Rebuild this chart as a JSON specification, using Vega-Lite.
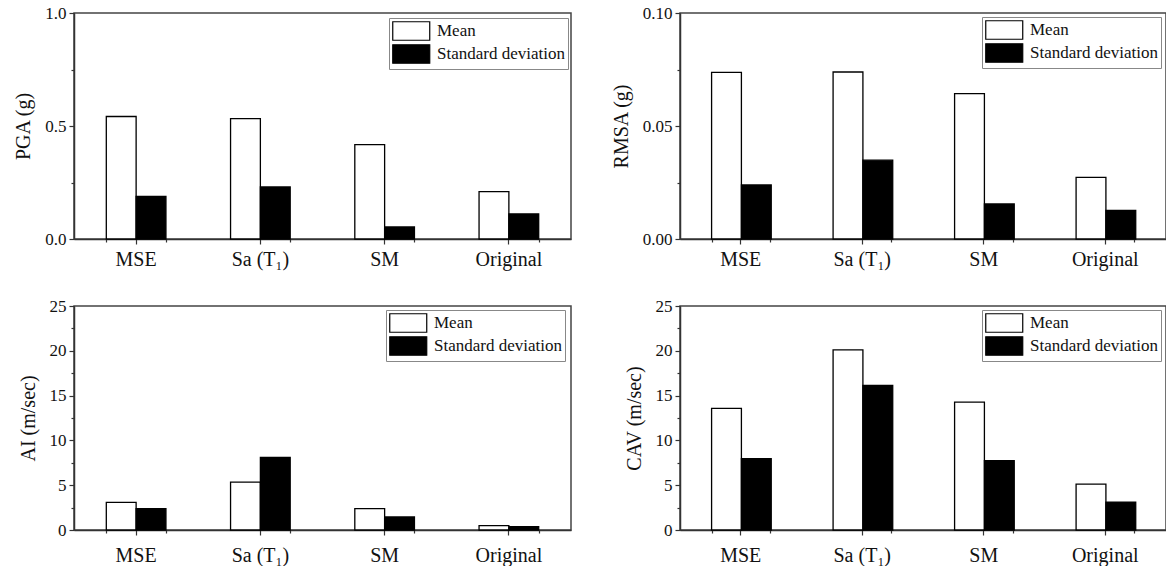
{
  "$schema": "https://vega.github.io/schema/vega-lite/v6.json",
  "padding": {"left": 13, "top": 3, "right": 0, "bottom": 0},
  "background": "white",
  "datasets": {
    "pga": [
      {"cat": "MSE", "stat": "Mean", "value": 0.542},
      {"cat": "MSE", "stat": "Standard deviation", "value": 0.188},
      {"cat": "Sa (T₁)", "stat": "Mean", "value": 0.533},
      {"cat": "Sa (T₁)", "stat": "Standard deviation", "value": 0.23},
      {"cat": "SM", "stat": "Mean", "value": 0.418},
      {"cat": "SM", "stat": "Standard deviation", "value": 0.053},
      {"cat": "Original", "stat": "Mean", "value": 0.21},
      {"cat": "Original", "stat": "Standard deviation", "value": 0.111}
    ],
    "rmsa": [
      {"cat": "MSE", "stat": "Mean", "value": 0.0737},
      {"cat": "MSE", "stat": "Standard deviation", "value": 0.0239},
      {"cat": "Sa (T₁)", "stat": "Mean", "value": 0.0739},
      {"cat": "Sa (T₁)", "stat": "Standard deviation", "value": 0.0349},
      {"cat": "SM", "stat": "Mean", "value": 0.0643},
      {"cat": "SM", "stat": "Standard deviation", "value": 0.0155},
      {"cat": "Original", "stat": "Mean", "value": 0.0273},
      {"cat": "Original", "stat": "Standard deviation", "value": 0.0126}
    ],
    "ai": [
      {"cat": "MSE", "stat": "Mean", "value": 3.08},
      {"cat": "MSE", "stat": "Standard deviation", "value": 2.38},
      {"cat": "Sa (T₁)", "stat": "Mean", "value": 5.35},
      {"cat": "Sa (T₁)", "stat": "Standard deviation", "value": 8.1},
      {"cat": "SM", "stat": "Mean", "value": 2.38},
      {"cat": "SM", "stat": "Standard deviation", "value": 1.45},
      {"cat": "Original", "stat": "Mean", "value": 0.48},
      {"cat": "Original", "stat": "Standard deviation", "value": 0.37}
    ],
    "cav": [
      {"cat": "MSE", "stat": "Mean", "value": 13.57},
      {"cat": "MSE", "stat": "Standard deviation", "value": 7.95},
      {"cat": "Sa (T₁)", "stat": "Mean", "value": 20.1},
      {"cat": "Sa (T₁)", "stat": "Standard deviation", "value": 16.13},
      {"cat": "SM", "stat": "Mean", "value": 14.27},
      {"cat": "SM", "stat": "Standard deviation", "value": 7.73},
      {"cat": "Original", "stat": "Mean", "value": 5.13},
      {"cat": "Original", "stat": "Standard deviation", "value": 3.12}
    ]
  },
  "columns": 2,
  "spacing": {"row": 26, "column": 38},
  "concat": [
    {
      "width": 497, "height": 226,
      "data": {"name": "pga"},
      "resolve": {"axis": {"x": "independent", "y": "independent"}},
      "layer": [
        {
          "mark": {"type": "bar", "stroke": "black", "strokeWidth": 1.3},
          "encoding": {
            "x": {"field": "cat", "type": "nominal", "sort": ["MSE", "Sa (T₁)", "SM", "Original"], "scale": {"paddingInner": 0.52, "paddingOuter": 0.26}, "axis": {"orient": "bottom", "title": null, "labelAngle": 0, "labelFontSize": 20, "labelPadding": 5, "tickSize": 5}},
            "xOffset": {"field": "stat", "type": "nominal", "sort": ["Mean", "Standard deviation"], "scale": {"paddingInner": 0, "paddingOuter": 0}},
            "y": {"field": "value", "type": "quantitative", "scale": {"domain": [0, 1], "nice": false}, "axis": {"orient": "left", "title": "PGA (g)", "values": [0, 0.5, 1], "format": ".1f"}},
            "fill": {"field": "stat", "type": "nominal", "sort": ["Mean", "Standard deviation"], "scale": {"range": ["white", "black"]}, "legend": {"orient": "none", "legendX": 315, "legendY": 5}}
          }
        },
        {
          "mark": {"type": "point", "opacity": 0},
          "encoding": {
            "x": {"field": "cat", "type": "nominal", "sort": ["MSE", "Sa (T₁)", "SM", "Original"], "axis": {"orient": "bottom", "title": null, "labels": false, "domain": false, "tickBand": "extent", "tickSize": 3}},
            "y": {"field": "value", "type": "quantitative", "axis": {"orient": "left", "title": null, "labels": false, "domain": false, "values": [0.25, 0.75], "tickSize": 3}}
          }
        }
      ]
    },
    {
      "width": 486, "height": 226,
      "data": {"name": "rmsa"},
      "resolve": {"axis": {"x": "independent", "y": "independent"}},
      "layer": [
        {
          "mark": {"type": "bar", "stroke": "black", "strokeWidth": 1.3},
          "encoding": {
            "x": {"field": "cat", "type": "nominal", "sort": ["MSE", "Sa (T₁)", "SM", "Original"], "scale": {"paddingInner": 0.52, "paddingOuter": 0.26}, "axis": {"orient": "bottom", "title": null, "labelAngle": 0, "labelFontSize": 20, "labelPadding": 5, "tickSize": 5}},
            "xOffset": {"field": "stat", "type": "nominal", "sort": ["Mean", "Standard deviation"], "scale": {"paddingInner": 0, "paddingOuter": 0}},
            "y": {"field": "value", "type": "quantitative", "scale": {"domain": [0, 0.1], "nice": false}, "axis": {"orient": "left", "title": "RMSA (g)", "values": [0, 0.05, 0.1], "format": ".2f"}},
            "fill": {"field": "stat", "type": "nominal", "sort": ["Mean", "Standard deviation"], "scale": {"range": ["white", "black"]}, "legend": {"orient": "none", "legendX": 302, "legendY": 4}}
          }
        },
        {
          "mark": {"type": "point", "opacity": 0},
          "encoding": {
            "x": {"field": "cat", "type": "nominal", "sort": ["MSE", "Sa (T₁)", "SM", "Original"], "axis": {"orient": "bottom", "title": null, "labels": false, "domain": false, "tickBand": "extent", "tickSize": 3}},
            "y": {"field": "value", "type": "quantitative", "axis": {"orient": "left", "title": null, "labels": false, "domain": false, "values": [0.025, 0.075], "tickSize": 3}}
          }
        }
      ]
    },
    {
      "width": 497, "height": 224,
      "data": {"name": "ai"},
      "resolve": {"axis": {"x": "independent", "y": "independent"}},
      "layer": [
        {
          "mark": {"type": "bar", "stroke": "black", "strokeWidth": 1.3},
          "encoding": {
            "x": {"field": "cat", "type": "nominal", "sort": ["MSE", "Sa (T₁)", "SM", "Original"], "scale": {"paddingInner": 0.52, "paddingOuter": 0.26}, "axis": {"orient": "bottom", "title": null, "labelAngle": 0, "labelFontSize": 20, "labelPadding": 10, "tickSize": 5}},
            "xOffset": {"field": "stat", "type": "nominal", "sort": ["Mean", "Standard deviation"], "scale": {"paddingInner": 0, "paddingOuter": 0}},
            "y": {"field": "value", "type": "quantitative", "scale": {"domain": [0, 25], "nice": false}, "axis": {"orient": "left", "title": "AI (m/sec)", "values": [0, 5, 10, 15, 20, 25], "format": "d"}},
            "fill": {"field": "stat", "type": "nominal", "sort": ["Mean", "Standard deviation"], "scale": {"range": ["white", "black"]}, "legend": {"orient": "none", "legendX": 312, "legendY": 4}}
          }
        },
        {
          "mark": {"type": "point", "opacity": 0},
          "encoding": {
            "x": {"field": "cat", "type": "nominal", "sort": ["MSE", "Sa (T₁)", "SM", "Original"], "axis": {"orient": "bottom", "title": null, "labels": false, "domain": false, "tickBand": "extent", "tickSize": 3}},
            "y": {"field": "value", "type": "quantitative", "axis": {"orient": "left", "title": null, "labels": false, "domain": false, "values": [2.5, 7.5, 12.5, 17.5, 22.5], "tickSize": 3}}
          }
        }
      ]
    },
    {
      "width": 486, "height": 224,
      "data": {"name": "cav"},
      "resolve": {"axis": {"x": "independent", "y": "independent"}},
      "layer": [
        {
          "mark": {"type": "bar", "stroke": "black", "strokeWidth": 1.3},
          "encoding": {
            "x": {"field": "cat", "type": "nominal", "sort": ["MSE", "Sa (T₁)", "SM", "Original"], "scale": {"paddingInner": 0.52, "paddingOuter": 0.26}, "axis": {"orient": "bottom", "title": null, "labelAngle": 0, "labelFontSize": 20, "labelPadding": 10, "tickSize": 5}},
            "xOffset": {"field": "stat", "type": "nominal", "sort": ["Mean", "Standard deviation"], "scale": {"paddingInner": 0, "paddingOuter": 0}},
            "y": {"field": "value", "type": "quantitative", "scale": {"domain": [0, 25], "nice": false}, "axis": {"orient": "left", "title": "CAV (m/sec)", "values": [0, 5, 10, 15, 20, 25], "format": "d"}},
            "fill": {"field": "stat", "type": "nominal", "sort": ["Mean", "Standard deviation"], "scale": {"range": ["white", "black"]}, "legend": {"orient": "none", "legendX": 302, "legendY": 4}}
          }
        },
        {
          "mark": {"type": "point", "opacity": 0},
          "encoding": {
            "x": {"field": "cat", "type": "nominal", "sort": ["MSE", "Sa (T₁)", "SM", "Original"], "axis": {"orient": "bottom", "title": null, "labels": false, "domain": false, "tickBand": "extent", "tickSize": 3}},
            "y": {"field": "value", "type": "quantitative", "axis": {"orient": "left", "title": null, "labels": false, "domain": false, "values": [2.5, 7.5, 12.5, 17.5, 22.5], "tickSize": 3}}
          }
        }
      ]
    }
  ],
  "resolve": {"scale": {"fill": "independent"}, "legend": {"fill": "independent"}},
  "config": {
    "font": "Liberation Serif",
    "view": {"stroke": "#444", "strokeWidth": 1.5},
    "axis": {
      "labelFont": "Liberation Serif",
      "titleFont": "Liberation Serif",
      "labelColor": "#111",
      "titleColor": "#111",
      "labelFontSize": 17,
      "titleFontSize": 20,
      "titleFontWeight": "normal",
      "domainColor": "#333",
      "tickColor": "#333",
      "domainWidth": 1.5,
      "tickWidth": 1.2,
      "tickSize": 5,
      "labelPadding": 3,
      "titlePadding": 11,
      "grid": false
    },
    "legend": {
      "title": null,
      "symbolType": "M-1,-1H3V1H-1Z",
      "symbolSize": 342,
      "symbolStrokeColor": "black",
      "symbolStrokeWidth": 1.2,
      "labelFont": "Liberation Serif",
      "labelFontSize": 17,
      "labelColor": "#111",
      "labelOffset": 25,
      "labelLimit": 0,
      "padding": 3,
      "rowPadding": -1,
      "strokeColor": "#888",
      "fillColor": "white"
    }
  }
}
